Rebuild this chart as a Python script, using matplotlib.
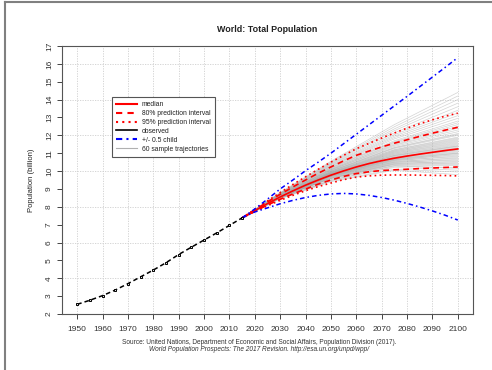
import matplotlib
matplotlib.use("Agg")
import matplotlib.pyplot as plt
from matplotlib.lines import Line2D

plt.rcParams["font.family"] = ["Liberation Sans", "DejaVu Sans"]

# observed population (billion)
obs_years = [1950, 1955, 1960, 1965, 1970, 1975, 1980, 1985, 1990, 1995, 2000, 2005, 2010, 2015]
obs_pop = [2.54, 2.77, 3.03, 3.34, 3.70, 4.08, 4.46, 4.87, 5.33, 5.74, 6.14, 6.54, 6.96, 7.38]

# projections
proj_years = [2015, 2020, 2025, 2030, 2035, 2040, 2045, 2050, 2055, 2060,
              2065, 2070, 2075, 2080, 2085, 2090, 2095, 2100]
median = [7.38, 7.79, 8.18, 8.55, 8.89, 9.21, 9.50, 9.77, 10.01, 10.23,
          10.42, 10.58, 10.72, 10.84, 10.95, 11.05, 11.15, 11.24]
pi80_up = [7.38, 7.83, 8.27, 8.70, 9.11, 9.50, 9.88, 10.23, 10.57, 10.88,
           11.12, 11.35, 11.56, 11.75, 11.94, 12.12, 12.29, 12.45]
pi80_lo = [7.38, 7.75, 8.10, 8.42, 8.72, 8.99, 9.27, 9.50, 9.70, 9.86,
           9.96, 10.03, 10.07, 10.10, 10.14, 10.17, 10.20, 10.23]
pi95_up = [7.38, 7.86, 8.33, 8.80, 9.25, 9.68, 10.10, 10.50, 10.88, 11.25,
           11.55, 11.85, 12.13, 12.40, 12.65, 12.87, 13.07, 13.24]
pi95_lo = [7.38, 7.73, 8.06, 8.36, 8.64, 8.90, 9.13, 9.33, 9.52, 9.66,
           9.73, 9.77, 9.78, 9.78, 9.77, 9.76, 9.75, 9.73]
high_var = [7.38, 7.88, 8.43, 9.00, 9.50, 10.02, 10.50, 11.00, 11.53, 12.06,
            12.59, 13.12, 13.65, 14.18, 14.72, 15.26, 15.80, 16.35]
low_var = [7.38, 7.71, 7.94, 8.17, 8.36, 8.52, 8.64, 8.72, 8.75, 8.72,
           8.64, 8.52, 8.37, 8.19, 7.99, 7.77, 7.53, 7.26]

# sample trajectories: values at 2015, 2030, 2050, 2075, 2100
traj_years = [2015, 2030, 2050, 2075, 2100]
trajectories = [
    [7.38, 8.45, 9.40, 10.05, 9.80], [7.38, 8.50, 9.45, 10.10, 9.95],
    [7.38, 8.48, 9.50, 10.20, 10.05], [7.38, 8.52, 9.60, 10.30, 10.15],
    [7.38, 8.46, 9.48, 10.25, 10.20], [7.38, 8.55, 9.55, 10.30, 10.30],
    [7.38, 8.50, 9.62, 10.35, 10.35], [7.38, 8.58, 9.58, 10.40, 10.40],
    [7.38, 8.49, 9.66, 10.38, 10.45], [7.38, 8.53, 9.60, 10.45, 10.50],
    [7.38, 8.56, 9.70, 10.42, 10.55], [7.38, 8.51, 9.64, 10.50, 10.60],
    [7.38, 8.54, 9.72, 10.48, 10.65], [7.38, 8.57, 9.68, 10.55, 10.70],
    [7.38, 8.52, 9.74, 10.52, 10.75], [7.38, 8.55, 9.70, 10.60, 10.80],
    [7.38, 8.58, 9.76, 10.58, 10.85], [7.38, 8.53, 9.73, 10.64, 10.90],
    [7.38, 8.56, 9.78, 10.62, 10.95], [7.38, 8.54, 9.75, 10.68, 11.00],
    [7.38, 8.59, 9.80, 10.66, 11.00], [7.38, 8.55, 9.77, 10.70, 11.05],
    [7.38, 8.52, 9.79, 10.72, 11.10], [7.38, 8.57, 9.82, 10.74, 11.15],
    [7.38, 8.55, 9.78, 10.78, 11.20], [7.38, 8.60, 9.84, 10.76, 11.20],
    [7.38, 8.54, 9.81, 10.80, 11.25], [7.38, 8.58, 9.86, 10.84, 11.30],
    [7.38, 8.56, 9.83, 10.86, 11.35], [7.38, 8.61, 9.88, 10.90, 11.40],
    [7.38, 8.55, 9.85, 10.88, 11.40], [7.38, 8.59, 9.90, 10.94, 11.45],
    [7.38, 8.57, 9.87, 10.96, 11.50], [7.38, 8.62, 9.92, 11.00, 11.55],
    [7.38, 8.56, 9.89, 11.02, 11.60], [7.38, 8.60, 9.94, 11.06, 11.65],
    [7.38, 8.63, 9.91, 11.08, 11.70], [7.38, 8.58, 9.96, 11.12, 11.75],
    [7.38, 8.61, 9.93, 11.14, 11.80], [7.38, 8.64, 9.98, 11.18, 11.85],
    [7.38, 8.59, 10.00, 11.20, 11.90], [7.38, 8.65, 10.02, 11.26, 12.00],
    [7.38, 8.62, 9.99, 11.30, 12.05], [7.38, 8.66, 10.05, 11.32, 12.10],
    [7.38, 8.63, 10.08, 11.38, 12.20], [7.38, 8.67, 10.06, 11.44, 12.30],
    [7.38, 8.64, 10.12, 11.48, 12.40], [7.38, 8.68, 10.10, 11.54, 12.50],
    [7.38, 8.66, 10.15, 11.60, 12.60], [7.38, 8.70, 10.18, 11.64, 12.70],
    [7.38, 8.67, 10.20, 11.70, 12.80], [7.38, 8.72, 10.24, 11.80, 12.95],
    [7.38, 8.69, 10.28, 11.88, 13.10], [7.38, 8.73, 10.30, 11.96, 13.25],
    [7.38, 8.71, 10.35, 12.04, 13.40], [7.38, 8.75, 10.38, 12.14, 13.60],
    [7.38, 8.74, 10.42, 12.26, 13.80], [7.38, 8.77, 10.46, 12.36, 14.00],
    [7.38, 8.76, 10.50, 12.48, 14.20], [7.38, 8.80, 10.55, 12.60, 14.40],
]

x_ticks = list(range(1950, 2101, 10))
y_ticks = list(range(2, 18))

fig = plt.figure(figsize=(4.92, 3.70), dpi=100)
ax = fig.add_axes([62 / 492, 1 - 314 / 370, 411 / 492, 268 / 370])

# outer frame lines of the screenshot
fig.add_artist(Line2D([5 / 492, 5 / 492], [0, 1 - 2 / 370], transform=fig.transFigure, color="#808080", lw=1.5))
fig.add_artist(Line2D([5 / 492, 1], [1 - 2 / 370, 1 - 2 / 370], transform=fig.transFigure, color="#808080", lw=1.5))

grid_kw = dict(color="#cfcfcf", lw=0.6, ls=(0, (1.5, 1.5)), zorder=0)
for x in x_ticks:
    ax.axvline(x, **grid_kw)
for y in range(4, 17, 2):
    ax.axhline(y, **grid_kw)

for tr in trajectories:
    ax.plot(traj_years, tr, color="#a8a8a8", lw=0.5, alpha=0.5, zorder=1)

ax.plot(proj_years, pi95_up, color="red", lw=1.2, ls=(0, (1, 2)), zorder=3)
ax.plot(proj_years, pi95_lo, color="red", lw=1.2, ls=(0, (1, 2)), zorder=3)
ax.plot(proj_years, pi80_up, color="red", lw=1.2, ls=(0, (3.5, 2.5)), zorder=3)
ax.plot(proj_years, pi80_lo, color="red", lw=1.2, ls=(0, (3.5, 2.5)), zorder=3)
ax.plot(proj_years, median, color="red", lw=1.2, zorder=3)
ax.plot(proj_years, high_var, color="blue", lw=1.1, ls=(0, (3, 2, 1, 2)), zorder=4)
ax.plot(proj_years, low_var, color="blue", lw=1.1, ls=(0, (3, 2, 1, 2)), zorder=4)

ax.plot(obs_years, obs_pop, color="black", lw=1.1, ls=(0, (3, 2)), marker="s",
        ms=2.0, mfc="#dddddd", mec="black", mew=0.7, zorder=5)

ax.set_xlim(1944, 2106)
ax.set_ylim(2, 17)
ax.set_xticks(x_ticks)
ax.set_yticks(y_ticks)
ax.tick_params(axis="both", labelsize=6, labelcolor="#333333", color="#444444",
               length=3.5, width=0.7, direction="out")
ax.tick_params(axis="x", pad=5)
ax.tick_params(axis="y", pad=3)
for lab in ax.get_yticklabels():
    lab.set_rotation(90)
    lab.set_va("center")
for s in ax.spines.values():
    s.set_color("#555555")
    s.set_linewidth(0.8)

ax.set_ylabel("Population (billion)", fontsize=5.5, color="#222222", labelpad=8)
fig.text(267 / 492, 1 - 29 / 370, "World: Total Population", ha="center", va="center",
         fontsize=6.4, fontweight="bold", color="#222222")

handles = [
    Line2D([], [], color="red", lw=1.5),
    Line2D([], [], color="red", lw=1.5, ls=(0, (3, 2.5))),
    Line2D([], [], color="red", lw=1.5, ls=(0, (1, 2))),
    Line2D([], [], color="black", lw=1.2),
    Line2D([], [], color="blue", lw=1.5, ls=(0, (3, 2, 1, 2))),
    Line2D([], [], color="#b0b0b0", lw=0.8),
]
labels = ["median", "80% prediction interval", "95% prediction interval",
          "observed", "+/- 0.5 child", "60 sample trajectories"]
leg = ax.legend(handles, labels, loc="upper left", bbox_to_anchor=(112 / 492, 1 - 97 / 370),
                bbox_transform=fig.transFigure, borderaxespad=0, fancybox=False,
                framealpha=1, edgecolor="#555555", fontsize=4.9, handlelength=3.0,
                handletextpad=0.8, labelspacing=0.28, borderpad=0.6)
leg.get_frame().set_linewidth(0.8)
for t in leg.get_texts():
    t.set_color("#222222")

fig.text(259 / 492, 1 - 342 / 370,
         "Source: United Nations, Department of Economic and Social Affairs, Population Division (2017).",
         ha="center", va="center", fontsize=4.7, color="#333333")
fig.text(259 / 492, 1 - 349.5 / 370,
         "World Population Prospects: The 2017 Revision. http://esa.un.org/unpd/wpp/",
         ha="center", va="center", fontsize=4.7, style="italic", color="#333333")

fig.savefig("out.png", dpi=100)
